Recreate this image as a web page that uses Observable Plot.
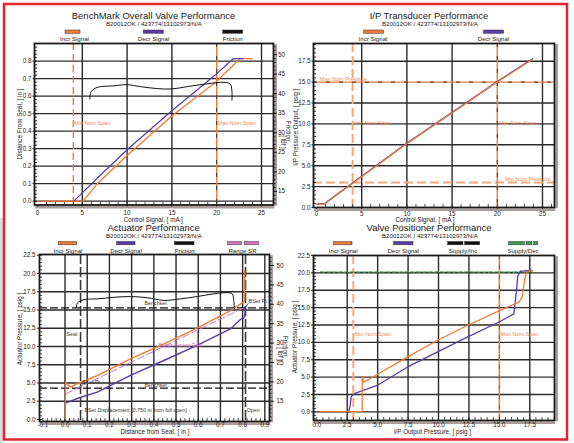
<!DOCTYPE html>
<html><head><meta charset="utf-8">
<script src="https://cdn.jsdelivr.net/npm/d3@7"></script>
<script src="https://cdn.jsdelivr.net/npm/@observablehq/plot@0.6"></script>
<style>
html,body{margin:0;padding:0;background:#fff;}
#chart{position:relative;width:574px;height:443px;overflow:hidden;}
#chart svg{position:absolute;left:0;top:0;}
</style></head><body><div id="chart"></div>
<script>
// ---------------- DATA ----------------
// Panel 1: BenchMark Overall Valve Performance
const p1IncrX = [0, 5.1, 6.66, 10, 14.92, 19.87, 22.58, 23.96];
const p1IncrY = [0, 0, 0.099, 0.261, 0.484, 0.68, 0.814, 0.814];
const p1DecrX = [4.05, 6.66, 10, 14.92, 19.87, 21.84, 22.9];
const p1DecrY = [0, 0.131, 0.294, 0.514, 0.722, 0.814, 0.814];
const p1FricX = [5.84, 5.99, 6.66, 8.52, 10.0, 11.5, 13.36, 15.0, 16.7, 18.9, 20.8, 21.5, 21.7, 21.7];
const p1FricY = [38.6, 40.55, 41.6, 42.0, 42.3, 41.8, 41.3, 41.2, 41.8, 42.5, 42.9, 42.5, 40.7, 38.3];
const p1TicksX = [0, 5, 10, 15, 20, 25];
const p1TicksY = [0, 0.1, 0.2, 0.3, 0.4, 0.5, 0.6, 0.7, 0.8];
const p1GridX = [5, 10, 15, 25];
const p1FricTicks = [15, 20, 25, 30, 35, 40, 45, 50];
const p1MinSpan = [4];
const p1MaxSpan = [20];
const p1NoteText = ["Min Nom Span", "Max Nom Span"];
const p1NoteX = [4.1, 20.1];
const p1NoteY = [0.447, 0.447];

// Panel 2: I/P Transducer Performance
const p2X = [0, 0.85, 9.9, 20, 23.9];
const p2IncrY = [0.36, 0.4, 7.56, 15.0, 17.75];
const p2DecrY = [0.4, 0.45, 7.62, 15.05, 17.8];
const p2TicksX = [0, 5, 10, 15, 20, 25];
const p2TicksY = [0, 2.5, 5, 7.5, 10, 12.5, 15, 17.5];
const p2GridX = [5, 10, 15, 25];
const p2GridY = [2.5, 5, 7.5, 10, 12.5, 17.5];
const p2MinSpan = [4];
const p2MaxSpan = [20];
const p2MinPress = [3];
const p2MaxPress = [15];
const p2NoteText = ["Max Nom Pressure", "Min Nom Span", "Max Nom Span"];
const p2NoteX = [0.4, 4.2, 20.15];
const p2NoteY = [15.4, 10.1, 10.1];
const p2NoteRText = ["Min Nom Pressure"];
const p2NoteRX = [25.9];
const p2NoteRY = [3.35];

// Panel 3: Actuator Performance
const p3IncrX = [0.002, 0.002, 0.025, 0.047, 0.145, 0.295, 0.445, 0.595, 0.745, 0.803, 0.809, 0.809];
const p3IncrY = [0.1, 5.1, 4.43, 4.8, 6.0, 8.3, 10.37, 12.5, 14.9, 16.07, 16.3, 20.4];
const p3DecrX = [0.002, 0.07, 0.145, 0.295, 0.445, 0.595, 0.745, 0.79, 0.805, 0.81, 0.812];
const p3DecrY = [2.23, 3.05, 3.74, 6.03, 8.08, 10.14, 12.4, 13.7, 13.9, 14.2, 15.4];
const p3RangeX = [0.002, 0.812];
const p3RangeY = [3.5, 15.4];
const p3FricX = [0.052, 0.055, 0.085, 0.145, 0.22, 0.295, 0.37, 0.445, 0.52, 0.595, 0.67, 0.73, 0.753, 0.76, 0.763];
const p3FricY = [39.25, 40.3, 41.2, 41.4, 41.8, 42.0, 41.7, 41.0, 41.4, 42.0, 42.7, 43.0, 42.7, 41.0, 38.8];
const p3TicksX = [-0.1, 0, 0.1, 0.2, 0.3, 0.4, 0.5, 0.6, 0.7, 0.8, 0.9];
const p3TicksY = [0, 2.5, 5, 7.5, 10, 12.5, 15, 17.5, 20, 22.5];
const p3GridX = [0, 0.1, 0.2, 0.3, 0.4, 0.5, 0.6, 0.7, 0.8, 0.9];
const p3GridY = [2.5, 5, 7.5, 10, 12.5, 15, 17.5, 20];
const p3FricTicks = [15, 20, 25, 30, 35, 40, 45, 50];
const p3SeatOpen = [0.07, 0.813];
const p3Benchset = [15.3, 4.29];
const p3NoteText = ["Benchset", "Benchset"];
const p3NoteX = [0.408, 0.408];
const p3NoteY = [15.85, 4.75];
const p3LeftText = ["Seat", "Open", "BSet Pt", "BSet Pt", "- BSet Displacement (0.750 in from full open)"];
const p3LeftX = [0.007, 0.818, 0.828, 0.077, 0.073];
const p3LeftY = [11.64, 1.23, 16.2, 5.03, 1.23];
const p3PinkText = ["Bench Spring Rate"];
const p3PinkX = [0.52];
const p3PinkY = [10.14];
const p3ArrowX1 = [0.826, 0.082];
const p3ArrowY1 = [15.95, 4.85];
const p3ArrowX2 = [0.813, 0.066];
const p3ArrowY2 = [15.35, 4.35];

// Panel 4: Valve Positioner Performance
const p4IncrX = [0.3, 3.65, 3.73, 3.73, 3.86, 4.96, 7.43, 9.89, 12.36, 14.93, 16.6, 16.88, 17.07, 17.23, 17.7];
const p4IncrY = [0.05, 0.05, 0.05, 5.09, 4.28, 5.38, 7.87, 10.27, 12.43, 14.5, 15.8, 16.5, 18.9, 20.1, 20.35];
const p4DecrX = [0.3, 2.63, 2.75, 2.83, 3.18, 4.96, 7.43, 9.89, 12.36, 14.93, 16.19, 16.41, 16.52, 16.74, 17.7];
const p4DecrY = [0.05, 0.05, 1.0, 2.2, 2.7, 3.8, 6.43, 8.6, 10.76, 12.9, 14.1, 17.5, 19.6, 20.25, 20.35];
const p4SupplyX = [0.3, 17.7];
const p4SupplyIncY = [20.08, 20.08];
const p4SupplyDecY = [20.12, 20.12];
const p4TicksX = [0, 2.5, 5, 7.5, 10, 12.5, 15, 17.5];
const p4TicksY = [0, 2.5, 5, 7.5, 10, 12.5, 15, 17.5, 20, 22.5];
const p4GridX = [2.5, 5, 7.5, 10, 12.5, 17.5];
const p4GridY = [0, 2.5, 5, 7.5, 10, 12.5, 15, 17.5, 20];
const p4MinSpan = [3];
const p4MaxSpan = [15];
const p4NoteText = ["Min Nom Span", "Max Nom Span"];
const p4NoteX = [3.12, 15.1];
const p4NoteY = [11.14, 11.14];

// Text
const titles = ["BenchMark Overall Valve Performance", "I/P Transducer Performance", "Actuator Performance", "Valve Positioner Performance"];
const subtitle = "B20012OK / 423774/13102973/N/A";
const legend1 = ["Incr Signal", "Decr Signal", "Friction"];
const legend2 = ["Incr Signal", "Decr Signal"];
const legend3 = ["Incr Signal", "Decr Signal", "Friction", "Range SR"];
const legend4 = ["Incr Signal", "Decr Signal", "Supply/Inc", "Supply/Dec"];

// ---------------- STYLE ----------------
const W = 574, H = 443;
const FONT = "'Liberation Sans', Arial, Helvetica, sans-serif";
const ORANGE = "#f07a32", PURPLE = "#5a3ca8", PINK = "#d673c4", GREEN = "#3c9a48";
const LORANGE = "#f6a878", GRID = "#2a2a2a", TXTOR = "#f28a50", SHADOW = "#a89c9c", INK = "#222";
const chart = document.getElementById("chart");

const pts = (xs, ys) => xs.map((x, i) => ({x, y: ys[i]}));
const fmt1 = d => d.toFixed(1);
const fmt0 = d => String(d);

function deco(xd, yd, fr, minorX, minorY, minorLen) {
  const [l, t, r, b] = fr;
  const fx = minorLen / (r - l), fy = minorLen / (b - t);
  return [
    Plot.ruleX([xd[1]], {y1: () => yd[0], y2: () => yd[1], dx: 2.2, dy: 1.2, stroke: SHADOW, strokeWidth: 2.6}),
    Plot.ruleY([yd[0]], {x1: () => xd[0], x2: () => xd[1], dx: 1.2, dy: 2.2, stroke: SHADOW, strokeWidth: 2.6}),
    Plot.ruleX(minorX, {y1: () => yd[0], y2: () => yd[0] + fy * (yd[1] - yd[0]), stroke: INK, strokeWidth: 0.8}),
    Plot.ruleY(minorY, {x1: () => xd[0], x2: () => xd[0] + fx * (xd[1] - xd[0]), stroke: INK, strokeWidth: 0.9}),
    Plot.frame({stroke: "#1a1a1a", strokeWidth: 1.8})
  ];
}

function panel(fr, xd, yd, marks) {
  const [l, t, r, b] = fr;
  const svg = Plot.plot({
    width: W, height: H,
    marginLeft: l, marginTop: t, marginRight: W - r, marginBottom: H - b,
    x: {domain: xd, axis: null},
    y: {domain: yd, axis: null},
    style: {background: "none", overflow: "visible", fontFamily: FONT, color: INK},
    marks
  });
  svg.style.position = "absolute"; svg.style.left = "0px"; svg.style.top = "0px";
  chart.append(svg);
}

const nomSpanMarks = (arr, dir) => dir === "x"
  ? [Plot.ruleX(arr, {stroke: ORANGE, strokeWidth: 1.4}), Plot.ruleX(arr, {stroke: "#333", strokeWidth: 1, strokeDasharray: "4,9"})]
  : [Plot.ruleY(arr, {stroke: ORANGE, strokeWidth: 1.4}), Plot.ruleY(arr, {stroke: "#333", strokeWidth: 1, strokeDasharray: "4,9"})];

// ---------------- PANEL 1 ----------------
{
  const fr = [34, 43, 273, 204.5];
  const xd = [-0.335, 26.34], yd = [-0.022, 0.901];
  panel(fr, xd, yd, [
    Plot.ruleX(p1GridX, {stroke: GRID, strokeWidth: 1.4}),
    Plot.ruleY(p1TicksY, {stroke: GRID, strokeWidth: 1.4}),
    Plot.ruleX(p1MinSpan, {stroke: ORANGE, strokeWidth: 1.4, strokeDasharray: "7,4"}),
    ...nomSpanMarks(p1MaxSpan, "x"),
    ...deco(xd, yd, fr, d3.range(1, 26, 1), d3.range(0, 0.9, 0.02), 3),
    Plot.axisX(p1TicksX, {anchor: "bottom", tickSize: 2, tickPadding: 4, fontSize: 6.3, label: null, tickFormat: fmt0}),
    Plot.axisY(p1TicksY, {anchor: "left", tickSize: 1.5, tickPadding: 1.5, fontSize: 6.3, label: null, tickFormat: fmt1}),
    Plot.line(pts(p1IncrX, p1IncrY), {x: "x", y: "y", stroke: ORANGE, strokeWidth: 1.3}),
    Plot.line(pts(p1DecrX, p1DecrY), {x: "x", y: "y", stroke: PURPLE, strokeWidth: 1.2}),
    Plot.text(p1NoteText, {x: (d, i) => p1NoteX[i], y: (d, i) => p1NoteY[i], text: d => d, textAnchor: "start", fontSize: 5.5, fill: TXTOR})
  ]);
  panel(fr, xd, [11.53, 52.83], [
    Plot.ruleY(d3.range(12, 53, 1), {x1: () => xd[1], x2: () => xd[1], dx: 0, stroke: "none"}),
    Plot.axisY(d3.range(12, 53, 1), {anchor: "right", tickSize: 1.5, text: null, label: null}),
    Plot.axisY(p1FricTicks, {anchor: "right", tickSize: 3, tickPadding: 1.5, fontSize: 6.3, label: null, tickFormat: fmt0}),
    Plot.line(pts(p1FricX, p1FricY), {x: "x", y: "y", stroke: "#111", strokeWidth: 1, curve: "catmull-rom"})
  ]);
}

// ---------------- PANEL 2 ----------------
{
  const fr = [313, 43, 554, 207];
  const xd = [-0.33, 26.33], yd = [0, 19.62];
  panel(fr, xd, yd, [
    Plot.ruleX(p2GridX, {stroke: GRID, strokeWidth: 1.4}),
    Plot.ruleY(p2GridY, {stroke: GRID, strokeWidth: 1.4}),
    Plot.ruleX(p2MinSpan, {stroke: LORANGE, strokeWidth: 2, strokeDasharray: "9,4"}),
    Plot.ruleY(p2MinPress, {stroke: LORANGE, strokeWidth: 2, strokeDasharray: "9,4"}),
    ...nomSpanMarks(p2MaxSpan, "x"),
    ...nomSpanMarks(p2MaxPress, "y"),
    ...deco(xd, yd, fr, d3.range(1, 27, 1), d3.range(0, 19.6, 0.5), 3),
    Plot.axisX(p2TicksX, {anchor: "bottom", tickSize: 2, tickPadding: 2, fontSize: 6.3, label: null, tickFormat: fmt0}),
    Plot.axisY(p2TicksY, {anchor: "left", tickSize: 1.5, tickPadding: 1.5, fontSize: 6.3, label: null, tickFormat: fmt1}),
    Plot.line(pts(p2X, p2DecrY), {x: "x", y: "y", stroke: PURPLE, strokeWidth: 1.4}),
    Plot.line(pts(p2X, p2IncrY), {x: "x", y: "y", stroke: ORANGE, strokeWidth: 1.2}),
    Plot.text(p2NoteText, {x: (d, i) => p2NoteX[i], y: (d, i) => p2NoteY[i], text: d => d, textAnchor: "start", fontSize: 5.5, fill: TXTOR}),
    Plot.text(p2NoteRText, {x: (d, i) => p2NoteRX[i], y: (d, i) => p2NoteRY[i], text: d => d, textAnchor: "end", fontSize: 5.5, fill: TXTOR})
  ]);
}

// ---------------- PANEL 3 ----------------
{
  const fr = [39, 254, 269, 421];
  const xd = [-0.115, 0.921], yd = [-0.274, 22.6];
  panel(fr, xd, yd, [
    Plot.ruleX(p3GridX, {stroke: GRID, strokeWidth: 1.4}),
    Plot.ruleY(p3GridY, {stroke: GRID, strokeWidth: 1.4}),
    Plot.ruleX(p3SeatOpen, {stroke: "#3a3a3a", strokeWidth: 1.6, strokeDasharray: "10,3"}),
    Plot.ruleY(p3Benchset, {stroke: "#111", strokeWidth: 1.3, strokeDasharray: "8,3"}),
    ...deco(xd, yd, fr, d3.range(-0.1, 0.92, 0.02), d3.range(0, 22.6, 0.5), 3),
    Plot.axisX(p3TicksX, {anchor: "bottom", tickSize: 0, tickPadding: 1.5, fontSize: 6.3, label: null, tickFormat: fmt1}),
    Plot.axisY(p3TicksY, {anchor: "left", tickSize: 2, tickPadding: 2, fontSize: 6.3, label: null, tickFormat: fmt1}),
    Plot.line(pts(p3RangeX, p3RangeY), {x: "x", y: "y", stroke: PINK, strokeWidth: 1, strokeDasharray: "7,3"}),
    Plot.line(pts(p3DecrX, p3DecrY), {x: "x", y: "y", stroke: PURPLE, strokeWidth: 1.4}),
    Plot.line(pts(p3IncrX, p3IncrY), {x: "x", y: "y", stroke: ORANGE, strokeWidth: 1.4}),
    Plot.link(p3ArrowX1, {x1: d => d, y1: (d, i) => p3ArrowY1[i], x2: (d, i) => p3ArrowX2[i], y2: (d, i) => p3ArrowY2[i], stroke: "#333", strokeWidth: 0.7}),
    Plot.text(p3NoteText, {x: (d, i) => p3NoteX[i], y: (d, i) => p3NoteY[i], text: d => d, fontSize: 5.3, fill: "#333"}),
    Plot.text(p3LeftText, {x: (d, i) => p3LeftX[i], y: (d, i) => p3LeftY[i], text: d => d, textAnchor: "start", fontSize: 5.3, fill: "#333"}),
    Plot.text(p3PinkText, {x: (d, i) => p3PinkX[i], y: (d, i) => p3PinkY[i], text: d => d, fontSize: 5.3, fill: PINK})
  ]);
  panel(fr, xd, [9.79, 52.84], [
    Plot.axisY(d3.range(10, 53, 1), {anchor: "right", tickSize: 1.5, text: null, label: null}),
    Plot.axisY(p3FricTicks, {anchor: "right", tickSize: 4, tickPadding: 3, fontSize: 6.3, label: null, tickFormat: fmt0}),
    Plot.line(pts(p3FricX, p3FricY), {x: "x", y: "y", stroke: "#111", strokeWidth: 1, curve: "catmull-rom"})
  ]);
}

// ---------------- PANEL 4 ----------------
{
  const fr = [313, 255, 554, 420];
  const xd = [-0.27, 19.53], yd = [-1.24, 22.5];
  panel(fr, xd, yd, [
    Plot.ruleX(p4GridX, {stroke: GRID, strokeWidth: 1.4}),
    Plot.ruleY(p4GridY, {stroke: GRID, strokeWidth: 1.4}),
    Plot.ruleX(p4MinSpan, {stroke: LORANGE, strokeWidth: 2, strokeDasharray: "9,4"}),
    Plot.ruleX(p4MaxSpan, {stroke: ORANGE, strokeWidth: 1.5}),
    Plot.ruleX(p4MaxSpan, {stroke: "#556", strokeWidth: 0.8, strokeDasharray: "4,6"}),
    ...deco(xd, yd, fr, d3.range(0, 19.6, 0.5), d3.range(-1, 22.6, 0.5), 3),
    Plot.axisX(p4TicksX, {anchor: "bottom", tickSize: 0, tickPadding: 2, fontSize: 6.3, label: null, tickFormat: fmt1}),
    Plot.axisY(p4TicksY, {anchor: "left", tickSize: 2, tickPadding: 1.5, fontSize: 6.3, label: null, tickFormat: fmt1}),
    Plot.line(pts(p4SupplyX, p4SupplyIncY), {x: "x", y: "y", stroke: "#111", strokeWidth: 1, strokeDasharray: "2,3"}),
    Plot.line(pts(p4SupplyX, p4SupplyDecY), {x: "x", y: "y", stroke: GREEN, strokeWidth: 1.1, strokeDasharray: "4,2"}),
    Plot.line(pts(p4DecrX, p4DecrY), {x: "x", y: "y", stroke: PURPLE, strokeWidth: 1.3}),
    Plot.line(pts(p4IncrX, p4IncrY), {x: "x", y: "y", stroke: ORANGE, strokeWidth: 1.3}),
    Plot.text(p4NoteText, {x: (d, i) => p4NoteX[i], y: (d, i) => p4NoteY[i], text: d => d, textAnchor: "start", fontSize: 5.5, fill: TXTOR})
  ]);
}

// ---------------- TITLES, LEGENDS, LABELS ----------------
const ov = d3.select(chart).append("svg").attr("width", W).attr("height", H)
  .style("position", "absolute").style("left", "0px").style("top", "0px")
  .style("font-family", FONT);

ov.append("rect").attr("x", 0).attr("y", 218).attr("width", 3).attr("height", 225).attr("fill", "#dcdcdc");
ov.append("rect").attr("x", 4).attr("y", 4).attr("width", 563).attr("height", 435.5)
  .attr("fill", "none").attr("stroke", "#e3262b").attr("stroke-width", 2.5);

function txt(x, y, s, size, opts = {}) {
  const t = ov.append("text").attr("x", x).attr("y", y).text(s)
    .attr("font-size", size).attr("fill", opts.fill || INK)
    .attr("text-anchor", opts.anchor || "middle");
  if (opts.rot) t.attr("transform", `rotate(${opts.rot},${x},${y})`);
  return t;
}
function sw(x, w, y, color, h = 3.3) {
  ov.append("rect").attr("x", x).attr("y", y).attr("width", w).attr("height", h)
    .attr("fill", color).attr("stroke", "#333").attr("stroke-width", 0.5);
}

// titles
txt(153.5, 19.3, titles[0], 9.5);
txt(429, 19.3, titles[1], 9.5);
txt(153.7, 231, titles[2], 9.5);
txt(429, 231, titles[3], 9.5);
[[154, 26.3], [430, 26.3], [154, 237.8], [430, 237.8]].forEach(([x, y]) => txt(x, y, subtitle, 6.1));

// legend panel 1
sw(65, 15, 30, ORANGE); sw(143.3, 20, 30, PURPLE); sw(222.7, 20, 30, "#111");
txt(74.5, 40.5, legend1[0], 6.1); txt(153.5, 40.5, legend1[1], 6.1); txt(232.7, 40.5, legend1[2], 6.1);
// legend panel 2
sw(363.7, 20, 30, ORANGE); sw(483.7, 20, 30, PURPLE);
txt(373, 40.5, legend2[0], 6.1); txt(493.5, 40.5, legend2[1], 6.1);
// legend panel 3
sw(58.3, 18.4, 241.5, ORANGE); sw(116.7, 18.3, 241.5, PURPLE); sw(174.3, 19.7, 241.5, "#111");
sw(227.7, 14, 241.5, PINK); sw(244.3, 14, 241.5, PINK);
txt(68, 252.5, legend3[0], 6.1); txt(126, 252.5, legend3[1], 6.1); txt(184.7, 252.5, legend3[2], 6.1); txt(242.5, 252.5, legend3[3], 6.1);
// legend panel 4
sw(333.7, 18.3, 241.5, ORANGE); sw(393.7, 19.3, 241.5, PURPLE);
sw(447.7, 15.3, 241.5, "#111"); sw(464.7, 15, 241.5, "#111");
sw(508.7, 15.6, 241.5, GREEN); sw(526, 6, 241.5, GREEN); sw(533.7, 4, 241.5, GREEN);
txt(343.2, 252.5, legend4[0], 6.1); txt(403.2, 252.5, legend4[1], 6.1); txt(463, 252.5, legend4[2], 6.1); txt(523, 252.5, legend4[3], 6.1);

// axis labels
txt(22, 124, "Distance From Seat, [ in ]", 6.3, {rot: -90});
txt(153.3, 221.6, "Control Signal, [ mA ]", 6.3);
txt(425, 221.6, "Control Signal, [ mA ]", 6.3);
txt(298, 127, "I/P Pressure Output, [ psig ]", 6.3, {rot: -90});
txt(286, 132, "Friction,", 6.3, {rot: 90});
txt(281, 142, "[ lbf ]", 6.3, {rot: 90});
txt(21.7, 329, "Actuator Pressure, [ psig ]", 6.3, {rot: -90});
txt(155, 433.5, "Distance from Seat, [ in ]", 6.3);
txt(432.5, 433.5, "I/P Output Pressure, [ psig ]", 6.3);
txt(297, 337, "Actuator Pressure, [ psig ]", 6.3, {rot: -90});
txt(283, 347, "Friction,", 6.3, {rot: 90});
txt(278, 354, "[ lbf ]", 6.3, {rot: 90});
</script></body></html>
